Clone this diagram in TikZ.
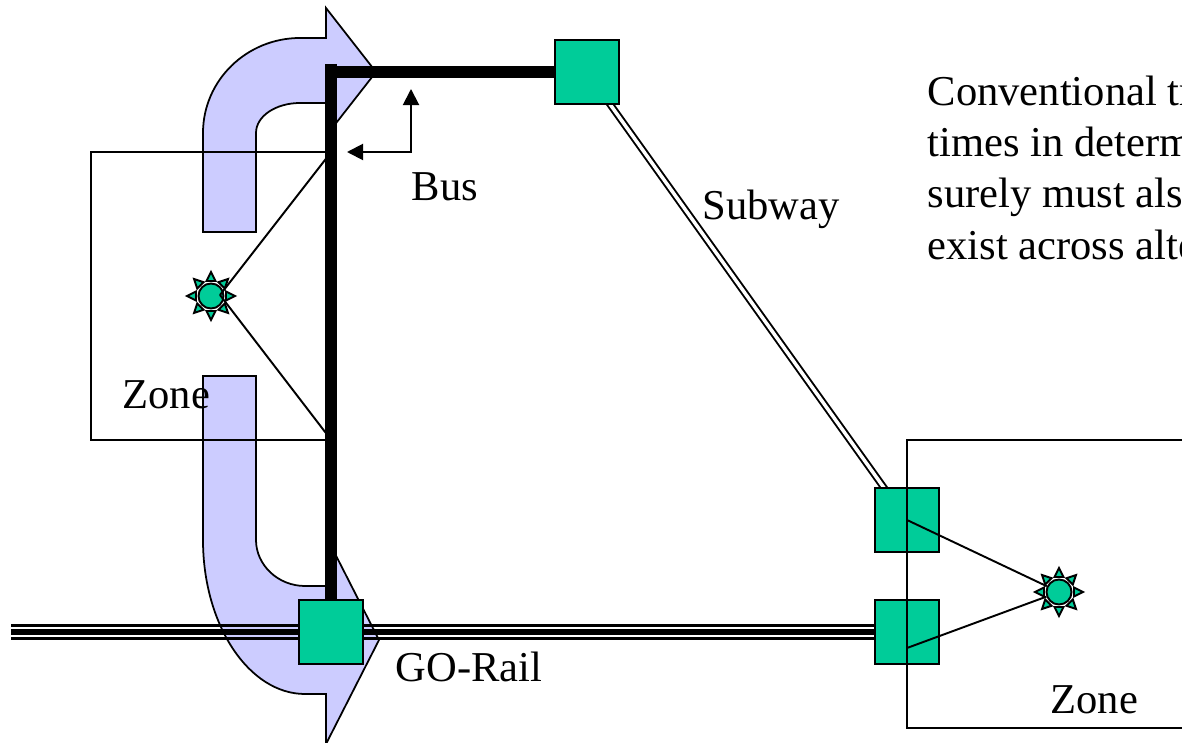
\documentclass[tikz,border=0pt]{standalone}
\usepackage{fontspec}
\setmainfont{Liberation Serif}
\usepackage{xcolor}
\usetikzlibrary{calc,arrows.meta,backgrounds}
\definecolor{stationgreen}{HTML}{00CC99}
\definecolor{flowblue}{HTML}{CCCCFF}
\tikzset{
  station/.style={draw=black, line width=0.6pt, fill=stationgreen, minimum size=0.64cm, inner sep=0pt},
  hub/.style={draw=black, line width=0.55pt, fill=stationgreen, circle, minimum size=0.25cm, inner sep=0pt},
  spike/.style={draw=black, line width=0.55pt, fill=stationgreen},
  flow/.style={draw=black, line width=0.5pt, fill=flowblue},
  zonebox/.style={draw=black, line width=0.55pt},
  link/.style={black, line width=0.55pt},
  busline/.style={black, line width=3.3pt},
  railline/.style={black, line width=0.7pt},
  subwayline/.style={black, line width=0.55pt, double=white, double distance=1pt},
  callout/.style={{Triangle[length=1.6mm,width=1.6mm]}-{Triangle[length=1.6mm,width=1.6mm]}, line width=0.55pt},
  tag/.style={inner sep=0pt, anchor=base west, font=\fontsize{12.1}{14.6}\selectfont},
  spikes/.pic={
    \foreach \a in {0,45,...,315}
      \draw[spike, rotate=\a] (15,-4.5) -- (24,0) -- (15,4.5) -- cycle;
  }
}
\begin{document}
\begin{tikzpicture}[x=0.01cm, y=-0.01cm]
  \useasboundingbox (0,0) rectangle (1182,743);

  % stops
  \coordinate (railEnd) at (11,632);
  \coordinate (busTop) at (331,64);
  \node[station] (goStop) at (331,632) {};
  \node[station] (subwayStop) at (587,72) {};
  \node[station] (subwayGate) at (907,520) {};
  \node[station] (railGate) at (907,632) {};

  % bent flows and lines go under the stops
  \begin{scope}[on background layer]
    \draw[flow] (203,232) -- (203,133) .. controls (203,80) and (247,38) .. (300,38) -- (326,38) -- (326,8)
      -- (376,72) -- (326,136) -- (326,103) -- (300,103) .. controls (276,103) and (256,116) .. (256,133) -- (256,232) -- cycle;
    \draw[flow] (203,376) -- (203,540) .. controls (203,625) and (249,694) .. (305,694) -- (326,694) -- (326,744)
      -- (379,640) -- (326,536) -- (326,586) -- (305,586) .. controls (278,586) and (256,565) .. (256,540) -- (256,376) -- cycle;
    \draw[railline] ([yshift=0.065cm]railEnd) -- ([yshift=0.065cm]railGate.center);
    \draw[railline, line width=1.6pt] (railEnd) -- (railGate.center);
    \draw[railline] ([yshift=-0.065cm]railEnd) -- ([yshift=-0.065cm]railGate.center);
    \draw[subwayline] (subwayStop.center) -- (subwayGate.center);
    \draw[busline] (busTop) -- (goStop.center);
    \draw[busline] (busTop |- subwayStop) -- (subwayStop.center);
  \end{scope}

  % zones
  \pic at (211,296) {spikes};
  \node[hub] (westHub) at (211,296) {};
  \pic at (1059,592) {spikes};
  \node[hub] (eastHub) at (1059,592) {};
  \node[zonebox, minimum width=2.4cm, minimum height=2.88cm, inner sep=0pt] (westZone) at (211,296) {};
  \node[zonebox, minimum width=2.88cm, minimum height=2.88cm, inner sep=0pt] (eastZone) at (1051,584) {};

  \coordinate (westTap) at (220,295);
  \coordinate (railTap) at (907,648);
  \draw[link] (westZone.north east) -- (westTap);
  \draw[link] (westZone.south east) -- (westTap);
  \draw[link] (subwayGate.center) -- (eastHub);
  \draw[link] (railTap) -- (eastHub);

  % bus pointer
  \coordinate (busTipUp) at (411,89);
  \coordinate (busTipLeft) at (347,152);
  \draw[callout] (busTipLeft) -| (busTipUp);

  \node[tag] (busLabel) at (411,201) {Bus};
  \node[tag] (subwayLabel) at (702,220) {Subway};
  \node[tag] (railLabel) at (395,681) {GO-Rail};
  \node[tag] (westZoneLabel) at (122,409) {Zone};
  \node[tag] (eastZoneLabel) at (1050,713) {Zone};
  \node[tag, anchor=north west, align=left] (noteText) at (927,75) {Conventional tr\\times in determ\\surely must als\\exist across alte};
\end{tikzpicture}
\end{document}
